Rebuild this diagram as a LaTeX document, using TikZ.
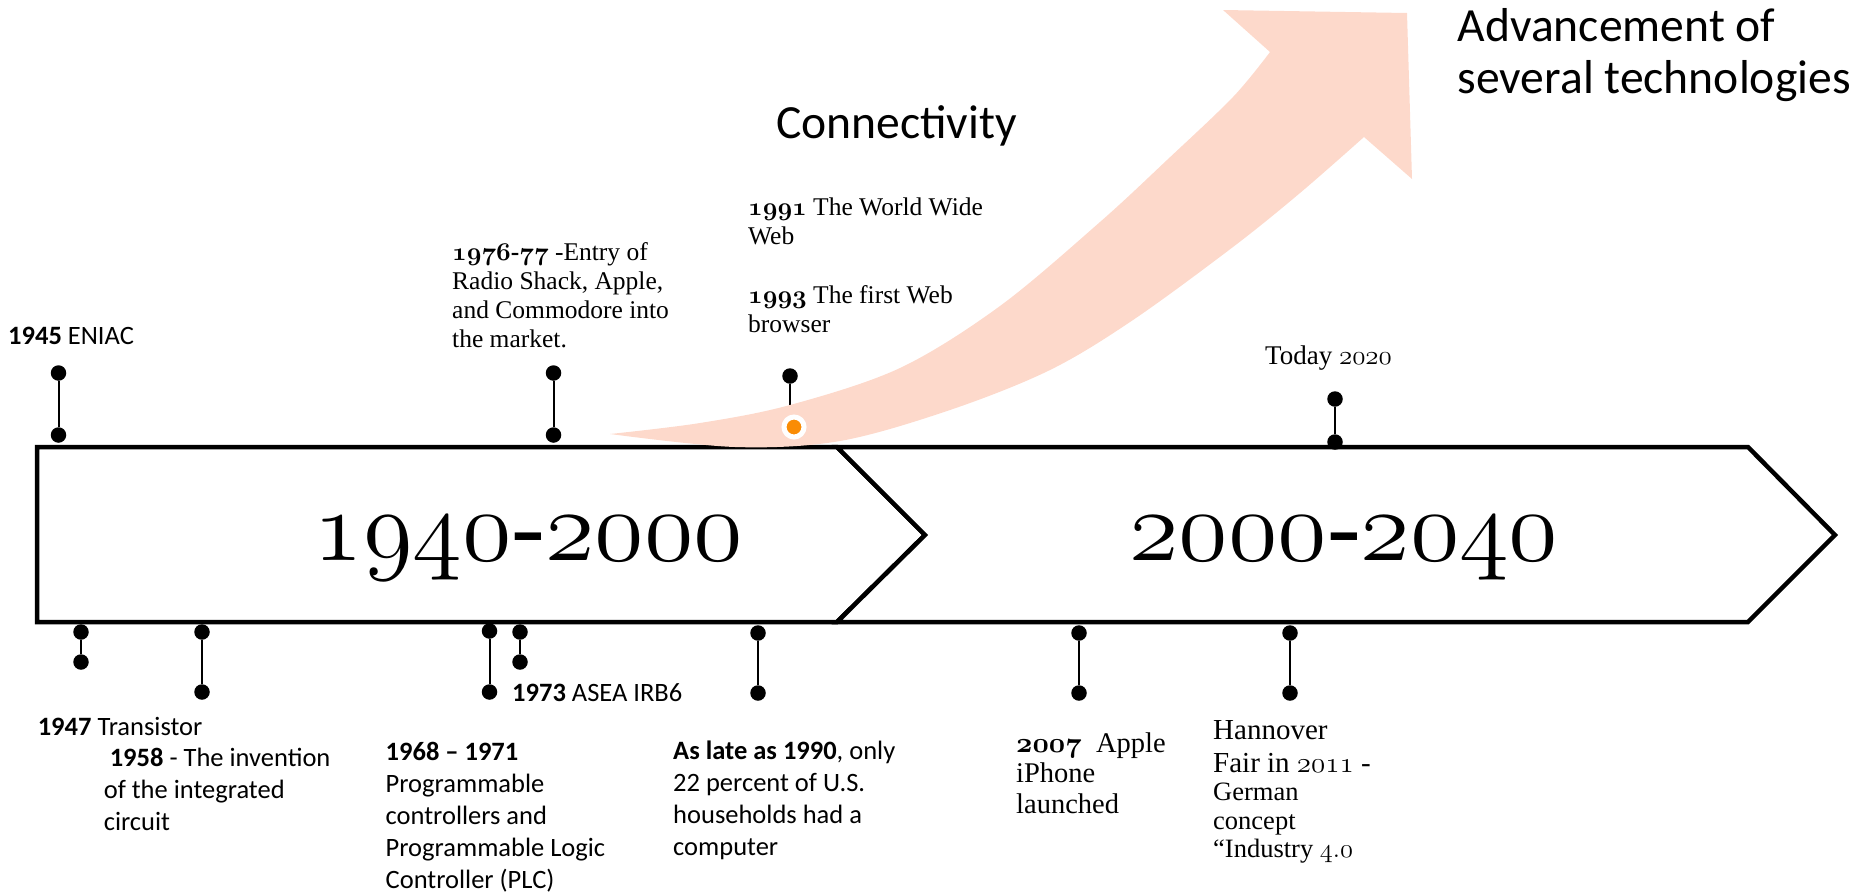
\RequirePackage{fix-cm}
\documentclass[tikz,border=0pt]{standalone}
\usepackage{fontspec}
\setmainfont{Liberation Serif}
\newfontfamily\calibri{Carlito}

\definecolor{peach}{RGB}{253,217,203}
\definecolor{dotorange}{RGB}{250,140,5}

% old-style figures taken from the math italic font
\newcommand\osf[1]{$\mathnormal{#1}$}
\newcommand\osfb[1]{{\boldmath$\mathnormal{#1}$}}
% left-aligned block of lines, hung from the first baseline
\newcommand\tlines[1]{\begin{tabular}[t]{@{}l@{}}#1\end{tabular}}

\tikzset{
  frame/.style={draw=black, line width=4.5pt, line join=miter, fill=white},
  stem/.style={line width=2pt},
  pinhead/.style={circle, fill=black, inner sep=0pt, minimum size=15.5pt},
  cal/.style={font=\calibri\fontsize{26.5}{32}\selectfont, inner sep=0pt, anchor=base west},
  calbig/.style={font=\calibri\fontsize{47.6}{52}\selectfont, inner sep=0pt, anchor=base west},
  geo/.style={font=\fontsize{25.5}{29}\selectfont, inner sep=0pt, anchor=base west},
  era/.style={font=\fontsize{101}{105}\selectfont, inner sep=0pt, anchor=base},
}

\begin{document}
\begin{tikzpicture}[x=1pt, y=-1pt]
\useasboundingbox (0,0) rectangle (1860,892);

% the two era arrows
\draw[frame] (37,447) -- (837,447) -- (925,535) -- (837,622) -- (37,622) -- cycle;
\draw[frame] (837,447) -- (1748,447) -- (1835,535) -- (1748,622) -- (837,622) -- (925,535) -- cycle;
\node[era] (era1) at (528.5,560) {\osf{1940}-\osf{2000}};
\node[era] (era2) at (1344,560) {\osf{2000}-\osf{2040}};

% pins above the timeline
\node[pinhead] (eniacA) at (58.5,373) {};
\node[pinhead] (eniacB) at (58.5,435) {};
\draw[stem] (eniacA) -- (eniacB);
\node[pinhead] (pcA) at (553.5,373) {};
\node[pinhead] (pcB) at (553.5,435) {};
\draw[stem] (pcA) -- (pcB);
\node[pinhead] (webA) at (790,376) {};
\coordinate (webB) at (790,427);
\draw[stem] (webA) -- (webB);
\node[pinhead] (todayA) at (1335,399) {};
\node[pinhead] (todayB) at (1335,442) {};
\draw[stem] (todayA) -- (todayB);

% pins below the timeline
\node[pinhead] (trA) at (81,632) {};
\node[pinhead] (trB) at (81,662) {};
\draw[stem] (trA) -- (trB);
\node[pinhead] (icA) at (202,632) {};
\node[pinhead] (icB) at (202,692) {};
\draw[stem] (icA) -- (icB);
\node[pinhead] (plcA) at (489.5,631) {};
\node[pinhead] (plcB) at (489.5,692) {};
\draw[stem] (plcA) -- (plcB);
\node[pinhead] (aseaA) at (520,632) {};
\node[pinhead] (aseaB) at (520,662) {};
\draw[stem] (aseaA) -- (aseaB);
\node[pinhead] (usA) at (758,633) {};
\node[pinhead] (usB) at (758,693) {};
\draw[stem] (usA) -- (usB);
\node[pinhead] (iphA) at (1079,633) {};
\node[pinhead] (iphB) at (1079,693) {};
\draw[stem] (iphA) -- (iphB);
\node[pinhead] (hanA) at (1290,633) {};
\node[pinhead] (hanB) at (1290,693) {};
\draw[stem] (hanA) -- (hanB);

% rising arrow of technology
\fill[peach]
  plot[smooth, tension=0.55] coordinates {(610,434) (700,423) (790,405) (900,368) (1000,306) (1100,222) (1167,160) (1233,97) (1270,52)}
  -- (1223,10) -- (1407,13) -- (1412,179) -- (1364,137)
  -- plot[smooth, tension=0.55] coordinates {(1364,137) (1300,193) (1233,247) (1133,320) (1050,370) (950,410) (840,441) (735,447) (610,434)}
  -- cycle;
\node[circle, fill=dotorange, draw=white, line width=5pt, minimum size=20pt, inner sep=0pt] (webdot) at (794,427) {};

% labels
\node[cal] (t1945) at (8,344) {\textbf{1945} ENIAC};
\node[cal] (t1947) at (37.6,735) {\textbf{1947} Transistor};
\node[cal] (t1958) at (103.6,766) {\tlines{\ \textbf{1958} - The invention\\of the integrated\\circuit}};
\node[cal] (t1968) at (385.5,760) {\tlines{\textbf{1968 – 1971}\\Programmable\\controllers and\\Programmable Logic\\Controller (PLC)}};
\node[cal] (t1973) at (512,701) {\textbf{1973} ASEA IRB6};
\node[cal] (t1990) at (673,759) {\tlines{\textbf{As late as 1990}, only\\22 percent of U.S.\\households had a\\computer}};

\node[geo] (t1976) at (452,260) {\tlines{\osfb{1976}\textbf{-}\osfb{77} -Entry of\\Radio Shack, Apple,\\and Commodore into\\the market.}};
\node[geo] (t1991) at (748,215) {\tlines{\osfb{1991} The World Wide\\Web}};
\node[geo] (t1993) at (748,303) {\tlines{\osfb{1993} The first Web\\browser}};
\node[geo, font=\fontsize{27}{30}\selectfont] (ttoday) at (1265,364) {Today \osf{2020}};
\node[geo, font=\fontsize{28.5}{30.5}\selectfont] (t2007) at (1016,752) {\tlines{\osfb{2007}\ \ Apple\\iPhone\\launched}};
\node[geo, font=\fontsize{26.5}{28.5}\selectfont] (thann) at (1213,739) {\tlines{{\fontsize{29}{30}\selectfont Hannover}\\[4.5pt]{\fontsize{29}{30}\selectfont Fair in \osf{2011} -}\\German\\concept\\“Industry \osf{4.0}}};

\node[calbig] (tconn) at (776,138) {Connectivity};
\node[calbig] (tadv) at (1457.5,41) {\tlines{Advancement of\\several technologies}};
\end{tikzpicture}
\end{document}
